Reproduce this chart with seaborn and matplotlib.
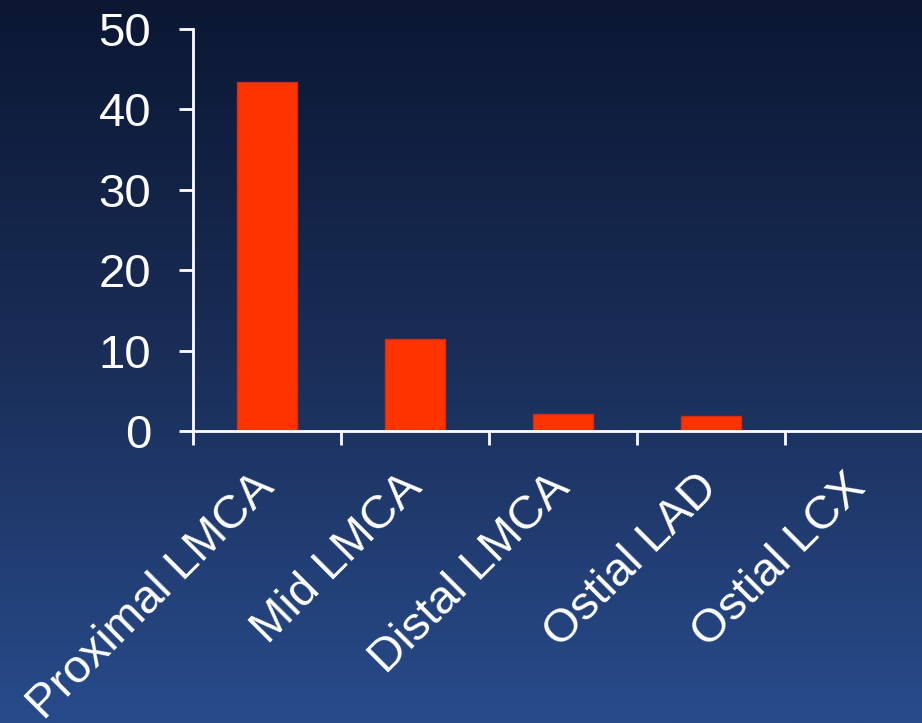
import numpy as np
import matplotlib
matplotlib.use("Agg")
import matplotlib.pyplot as plt
from matplotlib.colors import LinearSegmentedColormap
import seaborn as sns

categories = ["Proximal LMCA", "Mid LMCA", "Distal LMCA", "Ostial LAD", "Ostial LCX"]
values = [43.4, 11.4, 2.1, 1.9, 0.0]
yticks = [0, 10, 20, 30, 40, 50]

sns.set_style("white")
plt.rcParams['font.family'] = ['Liberation Sans', 'DejaVu Sans']

W, H = 922, 723
fig = plt.figure(figsize=(W / 100, H / 100), dpi=100)

# background gradient
bg = fig.add_axes([0, 0, 1, 1], zorder=0)
cmap = LinearSegmentedColormap.from_list("bg", ["#0b1733", "#1a2e58", "#284b8b"])
grad = np.linspace(0, 1, 256).reshape(-1, 1)
bg.imshow(grad, aspect="auto", cmap=cmap, extent=[0, 1, 0, 1], origin="upper")
bg.set_axis_off()

ax = fig.add_axes([193 / W, 292 / H, 740 / W, 402 / H], zorder=1)
ax.patch.set_alpha(0)
sns.barplot(x=categories, y=values, color="#ff3300", saturation=1, width=0.405,
            edgecolor="#c8301a", linewidth=1, ax=ax)

ax.set_xlim(-0.5, len(categories) - 0.5)
ax.set_ylim(0, 50)
ax.set_yticks(yticks)
ax.set_yticklabels([str(t) for t in yticks])
ax.set_xlabel("")
ax.set_ylabel("")

for s in ["top", "right"]:
    ax.spines[s].set_visible(False)
for s in ["left", "bottom"]:
    ax.spines[s].set_color("white")
    ax.spines[s].set_linewidth(2)

ax.tick_params(axis="y", direction="out", length=10, width=2, color="white",
               labelcolor="white", labelsize=34, pad=20, left=True)
ax.set_xticks(np.arange(-0.5, len(categories), 1.0), minor=True)
ax.tick_params(axis="x", which="minor", direction="out", length=10, width=2,
               color="white", bottom=True)
ax.tick_params(axis="x", which="major", length=0, labelcolor="white",
               labelsize=34, pad=36)
for lbl in ax.get_xticklabels():
    lbl.set_rotation(45)
    lbl.set_ha("right")
    lbl.set_va("center")
    lbl.set_rotation_mode("anchor")

fig.savefig("out.png", dpi=100)
